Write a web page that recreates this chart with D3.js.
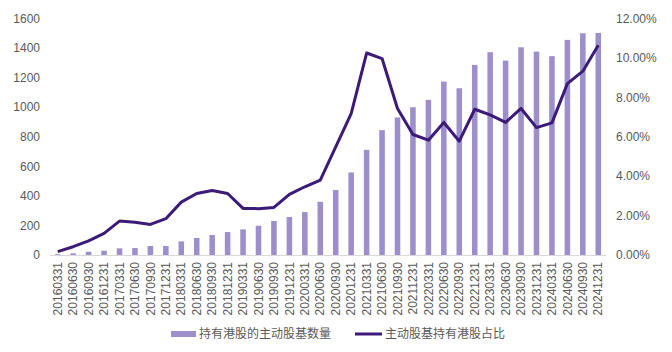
<!DOCTYPE html>
<html><head><meta charset="utf-8">
<script src="https://cdn.jsdelivr.net/npm/d3@7"></script>
<style>
body{margin:0;background:#fff;}
text{font-family:"Liberation Sans",Arial,"Noto Sans CJK SC",sans-serif;}
</style></head>
<body><svg id="c" width="672" height="352"></svg>
<script>
const categories = ["20160331","20160630","20160930","20161231","20170331","20170630","20170930","20171231","20180331","20180630","20180930","20181231","20190331","20190630","20190930","20191231","20200331","20200630","20200930","20201231","20210331","20210630","20210930","20211231","20220331","20220630","20220930","20221231","20230331","20230630","20230930","20231231","20240331","20240630","20240930","20241231"];
const fundCount = [5,11,22,29,45,47,61,61,92,115,135,155,173,198,230,257,290,360,439,558,711,844,930,999,1049,1172,1127,1285,1371,1314,1404,1375,1344,1454,1499,1501];
const ratioPct = [0.17,0.42,0.72,1.10,1.72,1.66,1.55,1.84,2.68,3.12,3.27,3.12,2.36,2.35,2.41,3.07,3.46,3.80,5.48,7.17,10.24,9.96,7.43,6.11,5.82,6.72,5.77,7.39,7.10,6.72,7.43,6.46,6.70,8.69,9.32,10.63];
const leftTicks = [0,200,400,600,800,1000,1200,1400,1600];
const rightTicks = [0,2,4,6,8,10,12];
const seriesNames = ["持有港股的主动股基数量","主动股基持有港股占比"];

const svg = d3.select("#c");
const L=50, R=606, T=18.3, B=255;
const x = d3.scaleBand().domain(categories).range([L,R]).paddingInner(0.64).paddingOuter(0.32);
const yL = d3.scaleLinear().domain([0,1600]).range([B,T]);
const yR = d3.scaleLinear().domain([0,12]).range([B,T]);
const txt="#595959", barC="#9d8fcc", lineC="#3b1a78";

// bars
svg.append("g").selectAll("rect").data(fundCount).join("rect")
  .attr("x",(d,i)=>x(categories[i])).attr("width",x.bandwidth())
  .attr("y",d=>yL(d)).attr("height",d=>B-yL(d)).attr("fill",barC);

// baseline
svg.append("line").attr("x1",L).attr("x2",R).attr("y1",B+0.5).attr("y2",B+0.5).attr("stroke","#d9d9d9").attr("stroke-width",1);

// line
const line = d3.line().x((d,i)=>x(categories[i])+x.bandwidth()/2).y(d=>yR(d));
svg.append("path").datum(ratioPct).attr("d",line).attr("fill","none").attr("stroke",lineC).attr("stroke-width",3).attr("stroke-linejoin","round");

// left axis
const gl = svg.append("g").attr("transform",`translate(${L},0)`).call(d3.axisLeft(yL).tickValues(leftTicks).tickSize(0).tickPadding(10).tickFormat(d3.format("d")));
gl.select(".domain").remove();
gl.selectAll("text").attr("fill",txt).style("font-size","12px");

// right axis
const gr = svg.append("g").attr("transform",`translate(${R},0)`).call(d3.axisRight(yR).tickValues(rightTicks).tickSize(0).tickPadding(10).tickFormat(d=>d.toFixed(2)+"%"));
gr.select(".domain").remove();
gr.selectAll("text").attr("fill",txt).style("font-size","12px");

// x axis
const gx = svg.append("g").attr("transform",`translate(0,${B})`).call(d3.axisBottom(x).tickSize(0).tickPadding(0));
gx.select(".domain").remove();
gx.selectAll("text").attr("fill",txt).style("font-size","12px")
  .attr("transform","rotate(-90)").attr("text-anchor","end").attr("x",-7).attr("y",0).attr("dy","0.35em");

// legend
const lg = svg.append("g");
lg.append("rect").attr("x",171).attr("y",331).attr("width",25).attr("height",6).attr("fill",barC);
lg.append("text").attr("x",199).attr("y",334).attr("dy","0.35em").attr("fill",txt).style("font-size","12px").text(seriesNames[0]);
lg.append("line").attr("x1",355).attr("x2",382).attr("y1",334).attr("y2",334).attr("stroke",lineC).attr("stroke-width",3);
lg.append("text").attr("x",385).attr("y",334).attr("dy","0.35em").attr("fill",txt).style("font-size","12px").text(seriesNames[1]);
</script></body></html>
